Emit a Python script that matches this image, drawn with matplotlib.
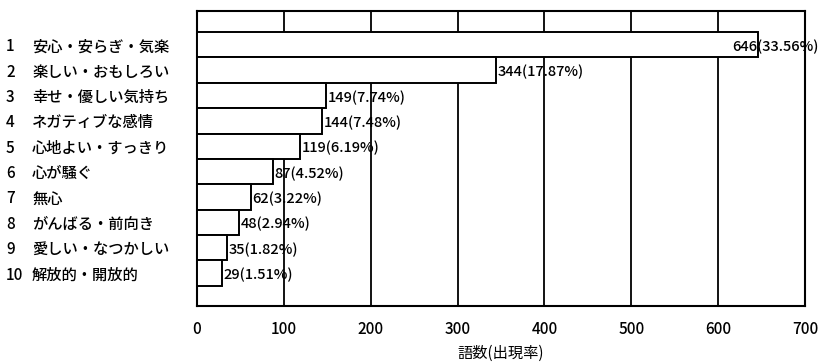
import matplotlib
matplotlib.use("Agg")
import matplotlib.pyplot as plt
import matplotlib.transforms as mtransforms

plt.rcParams['font.family'] = ['Noto Sans CJK JP', 'DejaVu Sans']
plt.rcParams['font.weight'] = 'medium'

ranks = [1, 2, 3, 4, 5, 6, 7, 8, 9, 10]
categories = ["安心・安らぎ・気楽", "楽しい・おもしろい", "幸せ・優しい気持ち", "ネガティブな感情",
              "心地よい・すっきり", "心が騒ぐ", "無心", "がんばる・前向き",
              "愛しい・なつかしい", "解放的・開放的"]
counts = [646, 344, 149, 144, 119, 87, 62, 48, 35, 29]
rates = ["33.56", "17.87", "7.74", "7.48", "6.19", "4.52", "3.22", "2.94", "1.82", "1.51"]
xticks = [0, 100, 200, 300, 400, 500, 600, 700]
xlabel = "語数(出現率)"

W, H = 821, 364
fig = plt.figure(figsize=(W / 100, H / 100), dpi=100)
ax = fig.add_axes([197 / W, 1 - 306 / H, (805 - 197) / W, (306 - 11) / H])

ypos = list(range(len(categories)))
ax.barh(ypos, counts, height=1.0, color="white", edgecolor="black", linewidth=1.4, zorder=3)

ax.set_xlim(0, 700)
ax.set_ylim(9.5 + 0.8, -0.5 - 0.83)

# vertical gridlines
for v in xticks[1:-1]:
    ax.axvline(v, color="black", linewidth=1.3, zorder=1)

for s in ax.spines.values():
    s.set_linewidth(1.5)
    s.set_color("black")

# value labels; a label that would run past the frame is pulled back over its bar
label_limit = 716
for y, c, r in zip(ypos, counts, rates):
    t = ax.text(c + 2, y + 0.08, f"{c}({r}%)", va="center", ha="left", fontsize=10.5,
                zorder=4, clip_on=False)
    if c > 600:
        t.set_position((label_limit, y + 0.08))
        t.set_ha("right")

# x ticks
ax.set_xticks(xticks)
ax.set_xticklabels([str(t) for t in xticks], fontsize=11)
ax.tick_params(axis="x", length=0, pad=11)
ax.set_xlabel(xlabel, fontsize=11, labelpad=5)

# category names as y tick labels, rank numbers as a separate column
ax.set_yticks(ypos)
ax.set_yticklabels(categories, fontsize=11, ha="left")
ax.tick_params(axis="y", length=0, pad=(197 - 32) * 0.72)

trans = mtransforms.blended_transform_factory(fig.transFigure, ax.transData)
for y, n in zip(ypos, ranks):
    ax.text(6 / W, y, str(n), transform=trans, ha="left", va="center_baseline", fontsize=11)

fig.savefig("out.png", dpi=100)
